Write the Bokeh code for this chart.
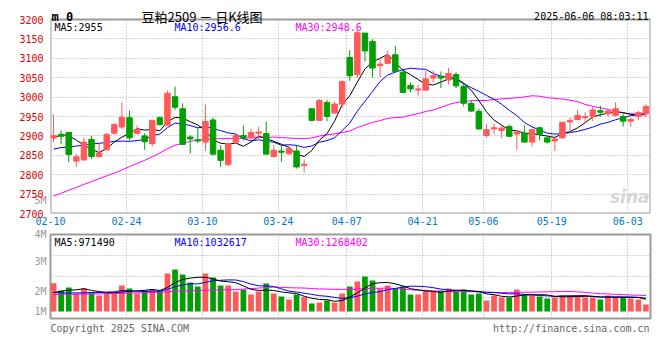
import numpy as np
import pandas as pd
from bokeh.plotting import figure
from bokeh.layouts import column
from bokeh.models import Range1d, FixedTicker, Label, ColumnDataSource, LinearAxis
from bokeh.embed import file_html
from bokeh.resources import INLINE

# ---------------- data ----------------
dates = ["02-10","02-11","02-12","02-13","02-14","02-17","02-18","02-19","02-20","02-21",
         "02-24","02-25","02-26","02-27","02-28","03-03","03-04","03-05","03-06","03-07",
         "03-10","03-11","03-12","03-13","03-14","03-17","03-18","03-19","03-20","03-21",
         "03-24","03-25","03-26","03-27","03-28","03-31","04-01","04-02","04-03","04-07",
         "04-08","04-09","04-10","04-11","04-14","04-15","04-16","04-17","04-18","04-21",
         "04-22","04-23","04-24","04-25","04-28","04-29","04-30","05-06","05-07","05-08",
         "05-09","05-12","05-13","05-14","05-15","05-16","05-19","05-20","05-21","05-22",
         "05-23","05-26","05-27","05-28","05-29","05-30","06-03","06-04","06-05"]

opens = [2895,2904,2909,2835,2838,2891,2847,2864,2907,2923,
         2947,2906,2900,2880,2947,2928,3001,2970,2897,2890,
         2884,2941,2863,2826,2884,2901,2895,2907,2906,2847,
         2861,2854,2861,2824,2970,2940,2986,2959,2982,3102,
         3058,3165,3143,3081,3087,3109,3064,3030,3018,3018,
         3049,3053,3044,3058,3027,2984,2963,2901,2918,2914,
         2924,2905,2907,2884,2921,2895,2887,2895,2936,2942,
         2947,2950,2965,2957,2953,2950,2938,2950,2957]
highs = [2955,2914,2910,2853,2896,2900,2880,2907,2933,2986,
         2965,2927,2907,2941,2950,3017,3027,2984,2902,2923,
         2981,2947,2876,2882,2905,2927,2918,2924,2937,2876,
         2878,2878,2876,2839,2970,2995,2993,2989,3042,3121,
         3171,3165,3149,3100,3119,3132,3068,3038,3032,3068,
         3068,3066,3075,3064,3034,2991,2970,2931,2931,2931,
         2929,2914,2927,2918,2924,2897,2895,2936,2947,2967,
         2961,2976,2978,2970,2987,2957,2948,2965,2981]
lows = [2884,2878,2833,2820,2836,2841,2844,2863,2904,2918,
        2888,2904,2864,2873,2927,2925,2967,2878,2854,2882,
        2861,2850,2820,2822,2880,2888,2888,2890,2853,2844,
        2833,2850,2816,2805,2938,2938,2938,2957,2972,3042,
        3049,3092,3051,3051,3085,3064,3010,3012,3004,3015,
        3038,3023,3032,3023,2976,2961,2916,2895,2904,2895,
        2897,2864,2882,2873,2888,2880,2861,2893,2907,2940,
        2933,2938,2950,2950,2950,2924,2924,2941,2948]
closes = [2901,2899,2852,2846,2884,2847,2856,2904,2929,2948,
          2895,2917,2885,2940,2929,3010,2974,2878,2892,2887,
          2937,2853,2837,2880,2901,2895,2909,2910,2853,2863,
          2858,2867,2820,2827,2940,2991,2950,2982,3040,3055,
          3166,3119,3075,3085,3106,3066,3012,3021,3021,3047,
          3055,3049,3061,3029,2984,2964,2918,2916,2921,2920,
          2899,2910,2884,2916,2904,2884,2892,2935,2940,2953,
          2950,2967,2961,2964,2970,2938,2942,2960,2976]
# volume, millions of lots
volume_m = [2.25,1.67,1.90,1.43,1.83,1.51,1.27,1.43,1.43,2.06,
            1.83,1.43,1.67,1.75,1.67,3.02,3.33,2.94,2.30,1.98,
            3.02,2.70,2.06,2.06,1.59,1.75,1.35,1.59,2.22,1.43,
            1.19,0.95,1.35,1.13,0.63,0.71,0.87,0.71,1.43,1.98,
            2.38,2.78,2.46,1.83,2.06,1.83,1.98,1.35,1.35,1.67,
            1.59,1.67,1.83,1.59,1.75,1.35,1.43,0.87,1.27,1.11,
            1.11,1.75,1.35,1.27,1.19,1.03,1.11,1.27,1.27,1.27,
            1.11,1.11,0.95,1.27,1.19,1.11,1.03,0.95,0.56]

# moving-average values before a full window exists
ma5_head = [2893, 2904, 2900, 2889]
ma10_head = [2866, 2870, 2871, 2874, 2876, 2879, 2881, 2883, 2886]
ma30_head = [2745, 2752, 2760, 2767, 2775, 2782, 2790, 2797, 2804, 2812,
             2821, 2829, 2837, 2846, 2856, 2867, 2876, 2881, 2886, 2889,
             2891, 2892, 2893, 2893, 2893, 2894, 2896, 2897, 2896]
vma5_head_m = [1.51, 1.61, 1.69, 1.72]
vma10_head_m = [1.51, 1.48, 1.46, 1.48, 1.48, 1.51, 1.51, 1.54, 1.56]
vma30_head_m = [1.35, 1.36, 1.37, 1.37, 1.38, 1.39, 1.40, 1.42, 1.43, 1.45,
                1.46, 1.48, 1.49, 1.51, 1.53, 1.57, 1.61, 1.63, 1.65, 1.67,
                1.69, 1.70, 1.71, 1.72, 1.74, 1.78, 1.82, 1.86, 1.90]

axis_dates = ["02-10", "02-24", "03-10", "03-24", "04-07", "04-21", "05-06", "05-19", "06-03"]
price_ticks = [2700, 2750, 2800, 2850, 2900, 2950, 3000, 3050, 3100, 3150, 3200]
vol_tick_labels = ["1M", "2M", "3M", "4M"]
vol_tick_values_m = [0.0, 1.59, 3.97, 6.10]
extra_vol_label = "5M"
extra_vol_label_price = 2733

title_code = "m 0"
title_text = "豆粕2509 － 日K线图"
stamp_text = "2025-06-06 08:03:11"
legend_main = ["MA5:2955", "MA10:2956.6", "MA30:2948.6"]
legend_vol = ["MA5:971490", "MA10:1032617", "MA30:1268402"]
footer_left = "Copyright 2025 SINA.COM"
footer_right = "http://finance.sina.com.cn"

# ---------------- styling / layout ----------------
MONO = "DejaVu Sans Mono"
CJK = "Noto Sans CJK SC"
UP = "#ff5a5a"
DOWN = "#00a000"
GRID = "#a8a8a8"
FRAME = "#9a9a9a"
VOL_LABEL = "#999999"
C_MA = ["#000000", "#0000ff", "#ff00ff"]
W, LEFT, RIGHT = 660, 50, 10
CAPTION_PX, CHART_PX = 19, 194          # caption band above the price box, price box height

# ---------------- derived series ----------------
n = len(closes)
idx = np.arange(n)
xc = idx + 0.4
o = np.array(opens, float); c = np.array(closes, float)
colors = [UP if cc >= oo else DOWN for oo, cc in zip(o, c)]

def rolling_with_head(values, window, head):
    s = pd.Series(values, dtype=float).rolling(window).mean().to_numpy()
    s[:len(head)] = head
    return s

ma5 = rolling_with_head(closes, 5, ma5_head)
ma10 = rolling_with_head(closes, 10, ma10_head)
ma30 = rolling_with_head(closes, 30, ma30_head)

vol = np.array(volume_m) * 1e6
vma5 = rolling_with_head(vol, 5, np.array(vma5_head_m) * 1e6)
vma10 = rolling_with_head(vol, 10, np.array(vma10_head_m) * 1e6)
vma30 = rolling_with_head(vol, 30, np.array(vma30_head_m) * 1e6)

src = ColumnDataSource(dict(x=xc, open=o, close=c, high=highs, low=lows,
                            top=np.maximum(o, c), bottom=np.minimum(o, c),
                            color=colors, vol=vol,
                            ma5=ma5, ma10=ma10, ma30=ma30,
                            vma5=vma5, vma10=vma10, vma30=vma30))

tick_idx = [dates.index(d) for d in axis_dates]
x_range = Range1d(0, n)
p_lo, p_hi = price_ticks[0], price_ticks[-1]
p_top = p_hi + (p_hi - p_lo) * CAPTION_PX / CHART_PX   # room for the caption band

def clean(fig):
    fig.background_fill_color = None
    fig.border_fill_color = None

def style_grid(fig, xticks, yticks):
    fig.xgrid.ticker = FixedTicker(ticks=xticks)
    fig.ygrid.ticker = FixedTicker(ticks=yticks)
    for g in (fig.xgrid[0], fig.ygrid[0]):
        g.grid_line_color = GRID
        g.grid_line_dash = "1 2"
        g.grid_line_width = 1

def plain_axis(ax, color, standoff=None, tick_out=None):
    ax.axis_line_color = None
    ax.major_tick_line_color = None
    ax.minor_tick_line_color = None
    ax.major_label_text_font = MONO
    ax.major_label_text_font_size = "10px"
    ax.major_label_text_color = color
    if tick_out is not None:
        ax.major_tick_out = tick_out
        ax.major_tick_in = 0
        ax.minor_tick_out = 0
        ax.minor_tick_in = 0
    if standoff is not None:
        ax.major_label_standoff = standoff

# ---------------- price panel (with caption band on top) ----------------
p = figure(width=W, height=227, x_range=x_range, y_range=Range1d(p_lo, p_top),
           output_backend="svg", toolbar_location=None,
           min_border_left=LEFT, min_border_right=RIGHT, min_border_top=0, min_border_bottom=0)
clean(p)
p.outline_line_color = None

p.xaxis.ticker = FixedTicker(ticks=tick_idx)
p.xaxis.major_label_overrides = {i: d for i, d in zip(tick_idx, axis_dates)}
plain_axis(p.xaxis[0], "#0078d7", standoff=-3)

price_axis = p.yaxis[0]
price_axis.ticker = FixedTicker(ticks=price_ticks)
# grey volume-scale label that Sina prints in the price scale column
vol5_axis = LinearAxis(ticker=FixedTicker(ticks=[extra_vol_label_price]),
                       major_label_overrides={extra_vol_label_price: extra_vol_label})
plain_axis(vol5_axis, VOL_LABEL, standoff=4, tick_out=0)
plain_axis(price_axis, "#e00000", standoff=-12, tick_out=0)
p.left = [vol5_axis, price_axis]

style_grid(p, tick_idx, price_ticks)

# caption band: blank strip above the price box, then the price box border
p.quad(left=0, right=n, bottom=p_hi, top=p_top, fill_color="white", line_color=None)
p.quad(left=0, right=n, bottom=p_lo, top=p_hi, fill_color=None,
       line_color=FRAME, line_width=2)

p.line("x", "ma30", source=src, line_color=C_MA[2], line_width=1)
p.line("x", "ma10", source=src, line_color=C_MA[1], line_width=1)
p.line("x", "ma5", source=src, line_color=C_MA[0], line_width=1)
p.segment(x0="x", y0="low", x1="x", y1="high", source=src, line_color="color", line_width=1)
p.vbar(x="x", top="top", bottom="bottom", width=0.72, source=src,
       fill_color="color", line_color="color", line_width=1)

p.add_layout(Label(x=0, y=p_hi, x_offset=1, y_offset=3, text=title_code,
                   text_font=MONO, text_font_style="bold", text_font_size="12px",
                   text_baseline="alphabetic", text_color="black"))
p.add_layout(Label(x=0, y=p_hi, x_offset=91, y_offset=3, text=title_text,
                   text_font=CJK, text_font_size="13px",
                   text_baseline="alphabetic", text_color="black"))
p.add_layout(Label(x=n, y=p_hi, x_offset=-2, y_offset=3, text=stamp_text,
                   text_font=MONO, text_font_size="10px", text_align="right",
                   text_baseline="alphabetic", text_color="black"))
for off, t, col in zip([4, 124, 245], legend_main, C_MA):
    p.add_layout(Label(x=0, y=p_hi, x_offset=off, y_offset=-8, text=t,
                       text_font=MONO, text_font_size="10px",
                       text_baseline="alphabetic", text_color=col))
p.add_layout(Label(x=n, y=p_lo, x_offset=-1, y_offset=7, text="sina",
                   text_font="DejaVu Sans", text_font_style="bold italic",
                   text_font_size="17px", text_align="right",
                   text_baseline="bottom", text_color="#d5d5d5"))

# ---------------- volume panel ----------------
px_per_m = 12.6
vol_hi = 77 / px_per_m * 1e6
vol_lo = -7 / px_per_m * 1e6
vol_grid = [vol_lo + (vol_hi - vol_lo) * k / 4 for k in (1, 2, 3)]
vol_ticks = [v * 1e6 for v in vol_tick_values_m]

q = figure(width=W, height=93, x_range=x_range, y_range=Range1d(vol_lo, vol_hi),
           output_backend="svg", toolbar_location=None, x_axis_location=None,
           min_border_left=LEFT, min_border_right=RIGHT, min_border_top=7, min_border_bottom=2)
clean(q)
q.outline_line_color = FRAME
q.outline_line_width = 2
q.yaxis.ticker = FixedTicker(ticks=vol_ticks)
q.yaxis.major_label_overrides = {v: t for v, t in zip(vol_ticks, vol_tick_labels)}
plain_axis(q.yaxis[0], VOL_LABEL, standoff=4, tick_out=0)
style_grid(q, tick_idx, vol_grid)

q.vbar(x="x", top="vol", bottom=0, width=0.75, source=src,
       fill_color="color", line_color=None)
q.line("x", "vma30", source=src, line_color=C_MA[2], line_width=1)
q.line("x", "vma10", source=src, line_color=C_MA[1], line_width=1)
q.line("x", "vma5", source=src, line_color=C_MA[0], line_width=1)

for off, t, col in zip([4, 124, 245], legend_vol, C_MA):
    q.add_layout(Label(x=0, y=vol_hi, x_offset=off, y_offset=-8, text=t,
                       text_font=MONO, text_font_size="10px",
                       text_baseline="alphabetic", text_color=col))

# ---------------- footer strip ----------------
f = figure(width=W, height=16, x_range=x_range, y_range=Range1d(0, 1),
           output_backend="svg", toolbar_location=None,
           x_axis_location=None, y_axis_location=None,
           min_border_left=LEFT, min_border_right=RIGHT, min_border_top=0, min_border_bottom=0)
clean(f)
f.outline_line_color = None
f.xgrid.visible = False
f.ygrid.visible = False
f.add_layout(Label(x=0, y=0, x_offset=0, y_offset=8, text=footer_left,
                   text_font=MONO, text_font_size="10px",
                   text_baseline="alphabetic", text_color="#666666"))
f.add_layout(Label(x=n, y=0, x_offset=-1, y_offset=8, text=footer_right,
                   text_font=MONO, text_font_size="10px", text_align="right",
                   text_baseline="alphabetic", text_color="#666666"))

layout = column(p, q, f, spacing=0)
open("out.html", "w").write(file_html(layout, INLINE))
